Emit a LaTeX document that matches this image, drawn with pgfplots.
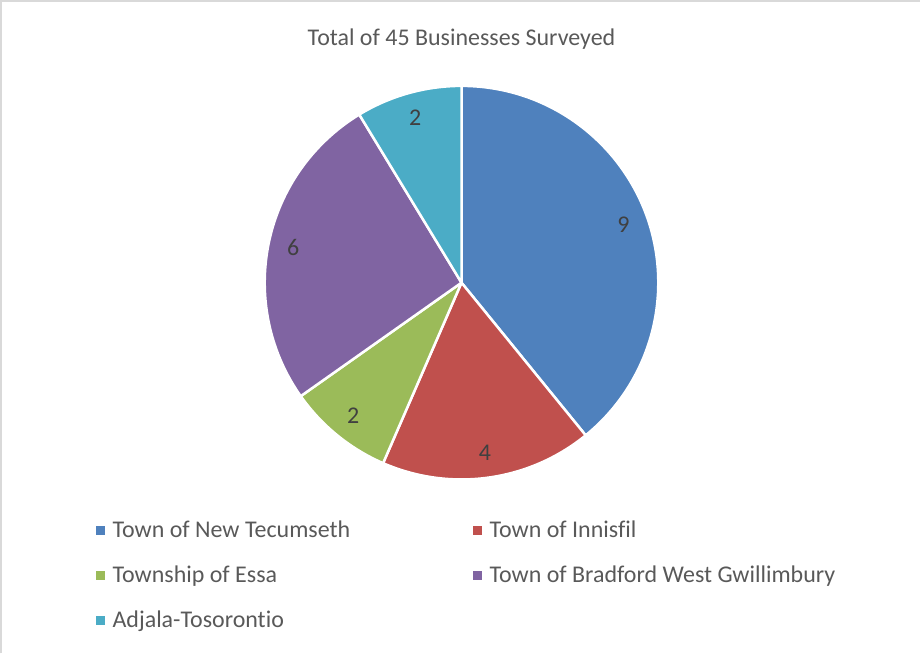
\documentclass[border=0pt]{standalone}
\usepackage{pgfplots}
\pgfplotsset{compat=1.18}
\usepackage{pgfplotstable}
\usepackage{fontspec}
\setmainfont{Carlito}[Ligatures=NoCommon]
\definecolor{pieBlue}{HTML}{4F81BD}
\definecolor{pieRed}{HTML}{C0504D}
\definecolor{pieGreen}{HTML}{9BBB59}
\definecolor{piePurple}{HTML}{8064A2}
\definecolor{pieAqua}{HTML}{4BACC6}
\definecolor{textgray}{HTML}{595959}
\definecolor{labelgray}{HTML}{404040}
\definecolor{bordergray}{HTML}{D9D9D9}

\pgfplotstableread[col sep=comma]{
label,value,color
Town of New Tecumseth,9,pieBlue
Town of Innisfil,4,pieRed
Township of Essa,2,pieGreen
Town of Bradford West Gwillimbury,6,piePurple
Adjala-Tosorontio,2,pieAqua
}\piedata

% total of the values
\pgfplotstablegetrowsof{\piedata}
\pgfmathtruncatemacro\nrows{\pgfplotsretval-1}
\def\pietotal{0}
\pgfplotsforeachungrouped \i in {0,...,\nrows}{%
  \pgfplotstablegetelem{\i}{value}\of\piedata
  \pgfmathsetmacro\pietotal{\pietotal+\pgfplotsretval}%
}

\def\cx{462}
\def\cy{371}
\def\R{197}
\def\Rl{172}

\begin{document}
\begin{tikzpicture}
\begin{axis}[
  x=1pt, y=1pt,
  xmin=0, xmax=921, ymin=0, ymax=654,
  scale only axis, hide axis, clip=false,
  legend columns=2,
  legend cell align=left,
  legend image code/.code={\fill[#1, draw=none] (0pt,-3.5pt) rectangle (9pt,5.5pt);},
  legend style={draw=none, fill=none, inner sep=0pt,
    at={(axis cs:96,133)}, anchor=north west,
    font=\fontsize{24}{28}\selectfont, text=textgray,
    nodes={inner sep=0pt, text height=17pt, text depth=5pt},
    /tikz/every odd column/.append style={column sep=7.5pt},
    /tikz/every even column/.append style={column sep=123pt},
    row sep=23pt},
]
\path (axis cs:0,0) rectangle (axis cs:921,654);
\draw[bordergray, line width=2pt] (axis cs:1.5,0) -- (axis cs:1.5,652.5) -- (axis cs:921,652.5);

\def\cum{0}
\pgfplotsforeachungrouped \i in {0,...,\nrows}{%
  \pgfplotstablegetelem{\i}{value}\of\piedata
  \let\v\pgfplotsretval
  \pgfplotstablegetelem{\i}{color}\of\piedata
  \let\c\pgfplotsretval
  \pgfmathsetmacro\a{90-360*\cum/\pietotal}%
  \pgfmathsetmacro\b{90-360*(\cum+\v)/\pietotal}%
  \pgfmathsetmacro\m{(\a+\b)/2}%
  \pgfmathsetmacro\lx{\cx+\Rl*cos(\m)}%
  \pgfmathsetmacro\ly{\cy+\Rl*sin(\m)}%
  \edef\temp{%
    \noexpand\fill[fill=\c, draw=white, line width=2.5pt, line join=round]
      (axis cs:\cx,\cy) -- ++(\a:\R pt) arc[start angle=\a, end angle=\b, radius=\R pt] -- cycle;
    \noexpand\node[text=labelgray, font=\noexpand\fontsize{24}{28}\noexpand\selectfont]
      at (axis cs:\lx,\ly) {\v};
  }%
  \temp
  \pgfmathsetmacro\cum{\cum+\v}%
}

\node[anchor=base, text=textgray, font=\fontsize{24}{28}\selectfont] at (axis cs:462,608) {Total of 45 Businesses Surveyed};

\addlegendimage{fill=pieBlue}
\addlegendentry{Town of New Tecumseth}
\addlegendimage{fill=pieRed}
\addlegendentry{Town of Innisfil}
\addlegendimage{fill=pieGreen}
\addlegendentry{Township of Essa}
\addlegendimage{fill=piePurple}
\addlegendentry{Town of Bradford West Gwillimbury}
\addlegendimage{fill=pieAqua}
\addlegendentry{Adjala-Tosorontio}
\end{axis}
\end{tikzpicture}
\end{document}
